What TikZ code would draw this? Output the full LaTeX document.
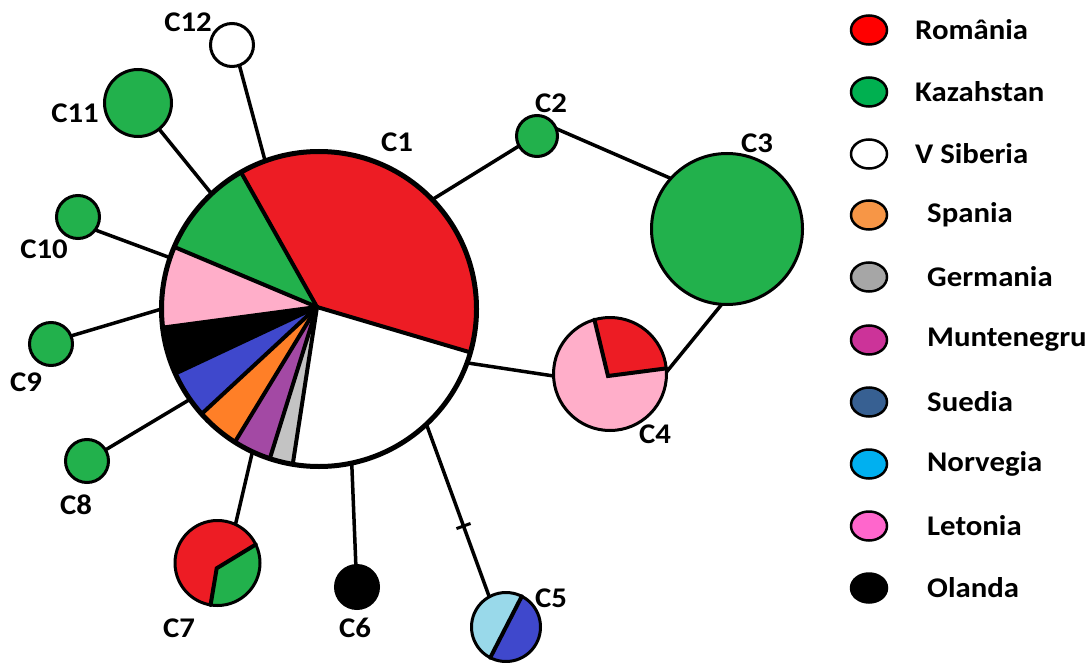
\documentclass[tikz,border=0pt]{standalone}
\usepackage{fontspec}
\setmainfont{Carlito}[FakeStretch=1.08]
\usetikzlibrary{backgrounds,shapes.geometric}
\definecolor{pred}{HTML}{ED1C24}
\definecolor{pgreen}{HTML}{22B14C}
\definecolor{ppink}{HTML}{FFAEC9}
\definecolor{pblue}{HTML}{3F48CC}
\definecolor{porange}{HTML}{FF7F27}
\definecolor{ppurple}{HTML}{A349A4}
\definecolor{pgray}{HTML}{C3C3C3}
\definecolor{plblue}{HTML}{99D9EA}
\definecolor{lred}{HTML}{FF0000}
\definecolor{lgreen}{HTML}{00B050}
\definecolor{lorange}{HTML}{F79646}
\definecolor{lgray}{HTML}{A6A6A6}
\definecolor{lmagenta}{HTML}{CC3399}
\definecolor{lsteel}{HTML}{376092}
\definecolor{lcyan}{HTML}{00B0F0}
\definecolor{lpink}{HTML}{FF66CC}
\tikzset{
  lbl/.style={font=\fontsize{28.5}{30}\selectfont\bfseries, inner sep=0pt},
  legtxt/.style={font=\fontsize{28.5}{30}\selectfont\bfseries, inner sep=0pt, anchor=west},
  hap/.style={circle, draw, line width=3pt, inner sep=0pt, outer sep=0pt},
  legmark/.style={ellipse, draw, line width=2.5pt, minimum width=36pt, minimum height=29pt, inner sep=0pt},
  conn/.style={line width=3.5pt},
  divline/.style={line width=4pt, line cap=round},
  tickmark/.style={draw, line width=3pt, rectangle, inner sep=0pt, minimum width=0pt, minimum height=15pt}
}
\begin{document}
\begin{tikzpicture}[x=1pt,y=-1pt]
\useasboundingbox (0,0) rectangle (1091,663);
% haplotype nodes
\node[hap, line width=5pt, minimum size=315pt] (C1) at (319,309) {};
\node[hap, fill=pgreen, minimum size=41pt] (C2) at (537,136) {};
\node[hap, fill=pgreen, minimum size=151pt] (C3) at (727,229) {};
\node[hap, minimum size=113pt] (C4) at (610,374) {};
\node[hap, minimum size=69pt] (C5) at (506,627) {};
\node[hap, fill=black, minimum size=43pt] (C6) at (357,587) {};
\node[hap, minimum size=85pt] (C7) at (217.5,563) {};
\node[hap, fill=pgreen, minimum size=43pt] (C8) at (87,461) {};
\node[hap, fill=pgreen, minimum size=43pt] (C9) at (51,344) {};
\node[hap, fill=pgreen, minimum size=43pt] (C10) at (78,217) {};
\node[hap, fill=pgreen, minimum size=67pt] (C11) at (138,103) {};
\node[hap, fill=white, minimum size=43pt] (C12) at (232,45) {};
% labels
\node[lbl] (lC1) at (397,142) {C1};
\node[lbl] (lC2) at (551,103) {C2};
\node[lbl] (lC3) at (757,143) {C3};
\node[lbl] (lC4) at (655,434) {C4};
\node[lbl] (lC5) at (551,598) {C5};
\node[lbl] (lC6) at (355,628) {C6};
\node[lbl] (lC7) at (179,628) {C7};
\node[lbl] (lC8) at (76,505) {C8};
\node[lbl] (lC9) at (26,382) {C9};
\node[lbl] (lC10) at (44,249) {C10};
\node[lbl] (lC11) at (75,113) {C11};
\node[lbl] (lC12) at (188,22) {C12};
\begin{scope}[on background layer]
% connectors
\draw[conn] (C1.44.5) -- (C2.209.7);
\draw[conn] (C2.21) -- (C3.138);
\draw[conn] (C3.266) -- (C4.2);
\draw[conn] (C1.-20.7) -- (C4.182);
\draw[conn] (C1.-47.2) -- node[pos=0.59, sloped, tickmark] (tk) {} (C5.119);
\draw[conn] (C1.-78.2) -- (C6.93);
\draw[conn] (C1.245.8) -- (C7.65.6);
\draw[conn] (C1.215.2) -- (C8.31);
\draw[conn] (C1.180.7) -- (C9.22);
\draw[conn] (C1.161) -- (C10.-37.7);
\draw[conn] (C1.133.7) -- (C11.-51);
\draw[conn] (C1.110.4) -- (C12.-70);
% C1 pie
\begin{scope}[shift={(C1.center)}]
\def\R{157.5pt}
\fill[white] (0,0) circle[radius=\R];
\fill[pred] (-2pt,2pt) -- (-16:\R) arc[start angle=-16, end angle=119.7, radius=\R] -- cycle;
\fill[pgreen] (-2pt,2pt) -- (119.7:\R) arc[start angle=119.7, end angle=156.8, radius=\R] -- cycle;
\fill[ppink] (-2pt,2pt) -- (156.8:\R) arc[start angle=156.8, end angle=186.8, radius=\R] -- cycle;
\fill[black] (-2pt,2pt) -- (186.8:\R) arc[start angle=186.8, end angle=204.2, radius=\R] -- cycle;
\fill[pblue] (-2pt,2pt) -- (204.2:\R) arc[start angle=204.2, end angle=221.8, radius=\R] -- cycle;
\fill[porange] (-2pt,2pt) -- (221.8:\R) arc[start angle=221.8, end angle=237.7, radius=\R] -- cycle;
\fill[ppurple] (-2pt,2pt) -- (237.7:\R) arc[start angle=237.7, end angle=251.8, radius=\R] -- cycle;
\fill[pgray] (-2pt,2pt) -- (251.8:\R) arc[start angle=251.8, end angle=260.4, radius=\R] -- cycle;
\foreach \a in {-16,119.7,156.8,186.8,204.2,221.8,237.7,251.8,260.4}
  \draw[divline] (-2pt,2pt) -- (\a:\R);
\end{scope}
% C4 pie
\begin{scope}[shift={(C4.center)}]
\def\R{56.5pt}
\fill[ppink] (0,0) circle[radius=\R];
\fill[pred] (-2pt,-2pt) -- (5.7:\R) arc[start angle=5.7, end angle=106, radius=\R] -- cycle;
\draw[divline] (5.7:\R) -- (-2pt,-2pt) -- (106:\R);
\end{scope}
% C5 pie
\begin{scope}[shift={(C5.center)}]
\def\R{34.5pt}
\fill[plblue] (62.8:\R) arc[start angle=62.8, end angle=242.8, radius=\R] -- cycle;
\fill[pblue] (242.8:\R) arc[start angle=242.8, end angle=422.8, radius=\R] -- cycle;
\draw[divline] (62.8:\R) -- (242.8:\R);
\end{scope}
% C7 pie
\begin{scope}[shift={(C7.center)}]
\def\R{42.5pt}
\fill[pred] (0,0) circle[radius=\R];
\fill[pgreen] (-0.8pt,-5.3pt) -- (-99.4:\R) arc[start angle=-99.4, end angle=25.8, radius=\R] -- cycle;
\draw[divline] (-99.4:\R) -- (-0.8pt,-5.3pt) -- (25.8:\R);
\end{scope}
\end{scope}
% legend
\node[legmark, fill=lred] (m1) at (869,30) {};
\node[legmark, fill=lgreen] (m2) at (869,92) {};
\node[legmark, fill=white] (m3) at (869,154) {};
\node[legmark, fill=lorange] (m4) at (869,215) {};
\node[legmark, fill=lgray] (m5) at (869,277) {};
\node[legmark, fill=lmagenta] (m6) at (869,340) {};
\node[legmark, fill=lsteel] (m7) at (869,402) {};
\node[legmark, fill=lcyan] (m8) at (869,464) {};
\node[legmark, fill=lpink] (m9) at (869,526) {};
\node[legmark, fill=black] (m10) at (869,588) {};
\node[legtxt] (t1) at (915,30) {România};
\node[legtxt] (t2) at (915,92) {Kazahstan};
\node[legtxt] (t3) at (915,154) {V Siberia};
\node[legtxt] (t4) at (927,215) {Spania};
\node[legtxt] (t5) at (927,277) {Germania};
\node[legtxt] (t6) at (927,340) {Muntenegru};
\node[legtxt] (t7) at (927,402) {Suedia};
\node[legtxt] (t8) at (927,464) {Norvegia};
\node[legtxt] (t9) at (927,526) {Letonia};
\node[legtxt] (t10) at (927,588) {Olanda};
\end{tikzpicture}
\end{document}
